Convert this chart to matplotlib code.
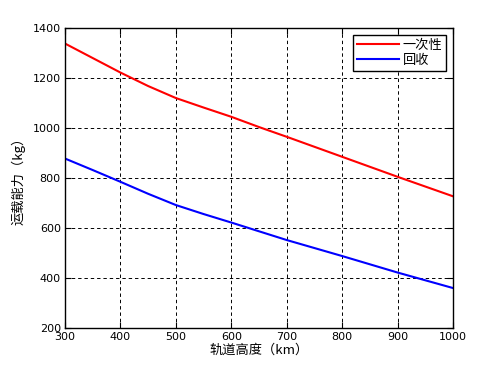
import matplotlib
matplotlib.use("Agg")
import matplotlib.pyplot as plt

plt.rcParams['font.family'] = ['Noto Sans CJK SC', 'DejaVu Sans']

altitude = [300, 350, 400, 450, 500, 550, 600, 650, 700, 750, 800, 850, 900, 950, 1000]
once = [1338, 1280, 1222, 1168, 1120, 1082, 1045, 1004, 965, 925, 885, 845, 805, 766, 727]
recover = [878, 832, 785, 737, 692, 656, 622, 587, 552, 520, 488, 455, 422, 391, 360]
xticks = [300, 400, 500, 600, 700, 800, 900, 1000]
yticks = [200, 400, 600, 800, 1000, 1200, 1400]

fig = plt.figure(figsize=(5.0, 3.69), dpi=100)
ax = fig.add_axes([0.13, 0.111, 0.776, 0.813])
ax.plot(altitude, once, color='#ff0000', lw=1.5, label='一次性')
ax.plot(altitude, recover, color='#0000ff', lw=1.5, label='回收')
ax.set_xlim(300, 1000)
ax.set_ylim(200, 1400)
ax.set_xticks(xticks)
ax.set_yticks(yticks)
ax.tick_params(direction='in', length=4, top=True, right=True, labelsize=8, pad=3, width=0.8)
for lab in ax.get_xticklabels() + ax.get_yticklabels():
    lab.set_family(['DejaVu Sans'])
ax.grid(True, color='black', linestyle=(0, (3.5, 3)), linewidth=0.7)
for s in ax.spines.values():
    s.set_linewidth(1.0)
ax.set_xlabel('轨道高度（km）', fontsize=9.5, labelpad=1)
ax.set_ylabel('运载能力（kg）', fontsize=9.5, labelpad=5)
leg = ax.legend(loc='upper right', fontsize=9.5, fancybox=False, framealpha=1,
                edgecolor='black', borderaxespad=0.5, handlelength=3.2,
                handletextpad=0.3, borderpad=0.3, labelspacing=0.15)
leg.get_frame().set_linewidth(1.0)
fig.savefig('out.png', dpi=100)
